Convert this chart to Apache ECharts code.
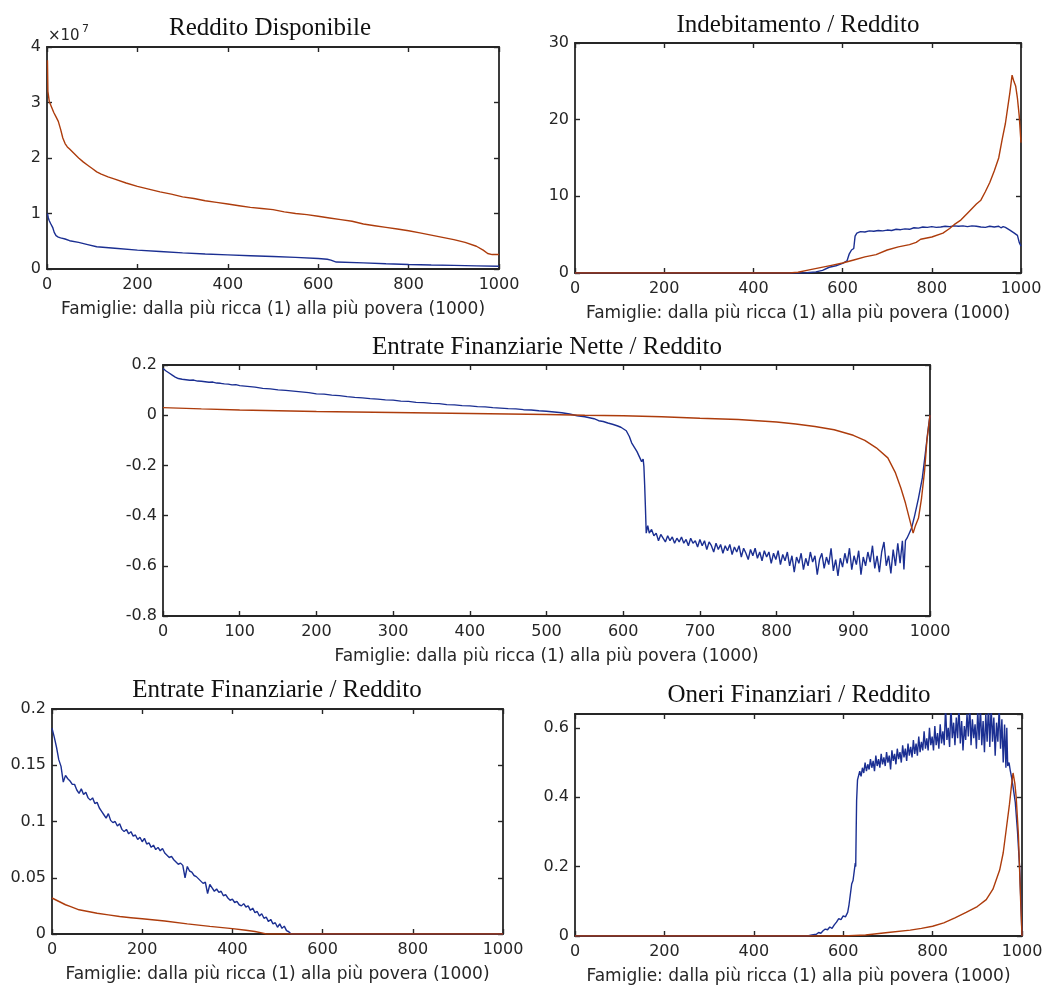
<!DOCTYPE html>
<html>
<head>
<meta charset="utf-8">
<script src="https://cdn.jsdelivr.net/npm/echarts@6/dist/echarts.min.js"></script>
<style>
  html, body { margin: 0; padding: 0; background: #ffffff; }
  #chart { width: 1046px; height: 986px; }
</style>
</head>
<body>
<div id="chart"></div>
<script>
// ---------------- DATA (x = famiglia 1..1000, y = valore) ----------------
const xAxisName = 'Famiglie: dalla più ricca (1) alla più povera (1000)';
const titles = ['Reddito Disponibile', 'Indebitamento / Reddito', 'Entrate Finanziarie Nette / Reddito',
                'Entrate Finanziarie / Reddito', 'Oneri Finanziari / Reddito'];

// Panel 1: Reddito Disponibile (unità: 10^7)
const redditoBlu = [[1,1.00],[3,0.92],[5,0.87],[8,0.82],[10,0.79],[13,0.74],[16,0.66],[20,0.60],[25,0.575],[30,0.56],
  [40,0.54],[50,0.51],[70,0.48],[90,0.44],[110,0.40],[150,0.375],[200,0.34],[250,0.315],[300,0.29],[350,0.27],
  [400,0.255],[450,0.24],[500,0.225],[550,0.21],[600,0.19],[620,0.175],[628,0.16],[632,0.135],[640,0.125],
  [700,0.11],[750,0.095],[800,0.082],[850,0.072],[900,0.065],[950,0.057],[1000,0.05]];
const redditoArancio = [[1,3.76],[2,3.20],[5,3.02],[10,2.92],[15,2.82],[20,2.74],[25,2.66],[30,2.52],[35,2.36],[40,2.26],
  [45,2.20],[50,2.16],[60,2.08],[70,2.00],[80,1.93],[90,1.87],[100,1.81],[110,1.75],[120,1.71],[135,1.66],[150,1.62],
  [175,1.55],[200,1.49],[225,1.44],[250,1.39],[275,1.35],[300,1.30],[325,1.27],[350,1.23],[375,1.20],[400,1.17],
  [425,1.14],[450,1.11],[475,1.09],[500,1.07],[525,1.03],[550,1.00],[575,0.98],[600,0.95],[625,0.92],[650,0.89],
  [675,0.86],[700,0.81],[725,0.78],[750,0.75],[775,0.72],[800,0.69],[825,0.65],[850,0.61],[875,0.57],[900,0.53],
  [925,0.48],[950,0.41],[965,0.34],[975,0.28],[985,0.26],[1000,0.26]];

// Panel 2: Indebitamento / Reddito
const debitoBlu = [[0,0],[500,0],[520,0.03],[540,0.15],[555,0.35],[570,0.75],[585,0.95],[600,1.25],[610,1.6],[615,2.5],
  [620,3.0],[625,3.2],[628,4.8],[632,5.2],[640,5.4],[650,5.35],[660,5.5],[670,5.45],[680,5.55],[690,5.5],[700,5.6],
  [710,5.55],[720,5.7],[730,5.65],[740,5.75],[750,5.7],[760,5.9],[770,5.85],[780,6.0],[790,5.95],[800,6.05],
  [810,5.95],[820,6.0],[830,6.1],[840,6.05],[850,6.15],[860,6.1],[870,6.15],[880,6.05],[890,6.15],[900,6.1],
  [910,6.0],[920,5.95],[930,6.1],[940,6.0],[950,6.1],[955,5.9],[960,6.05],[965,5.95],[975,5.6],[985,5.2],
  [992,4.9],[996,4.0],[1000,3.5]];
const debitoArancio = [[0,0],[480,0],[500,0.1],[525,0.4],[550,0.7],[575,1.0],[600,1.3],[625,1.7],[650,2.1],[675,2.4],
  [700,3.0],[725,3.4],[750,3.7],[765,4.0],[775,4.4],[800,4.7],[825,5.2],[840,5.8],[850,6.3],[865,6.9],[880,7.8],
  [900,9.0],[910,9.5],[920,10.6],[930,11.8],[940,13.3],[950,15.0],[958,17.5],[965,19.5],[970,21.5],[975,23.5],
  [980,25.8],[984,25.0],[988,24.4],[992,22.8],[996,20.5],[1000,17.0]];

// Panel 3: Entrate Finanziarie Nette / Reddito
const netteBlu = [[0,0.186],[4,0.176],[8,0.168],[12,0.160],[16,0.152],[20,0.146],[25,0.143],[30,0.141],[35,0.139],
  [40,0.140],[45,0.136],[50,0.135],[55,0.133],[60,0.131],[65,0.132],[70,0.128],[75,0.127],[80,0.125],[85,0.124],
  [90,0.121],[95,0.122],[100,0.118],[110,0.115],[120,0.112],[130,0.107],[140,0.105],[150,0.101],[160,0.099],
  [170,0.096],[180,0.093],[190,0.090],[200,0.085],[210,0.084],[220,0.080],[230,0.078],[240,0.074],[250,0.071],
  [260,0.069],[270,0.066],[280,0.064],[290,0.061],[300,0.060],[310,0.056],[320,0.055],[330,0.051],[340,0.050],
  [350,0.047],[360,0.046],[370,0.042],[380,0.041],[390,0.038],[400,0.037],[410,0.034],[420,0.033],[430,0.030],
  [440,0.028],[450,0.026],[460,0.025],[470,0.022],[480,0.021],[490,0.018],[500,0.016],[510,0.013],[520,0.010],
  [530,0.005],[540,-0.002],[550,-0.006],[556,-0.010],[562,-0.014],[568,-0.022],[574,-0.025],[580,-0.031],
  [586,-0.036],[592,-0.042],[597,-0.048],[601,-0.056],[604,-0.062],[608,-0.085],[611,-0.110],[615,-0.130],
  [618,-0.145],[621,-0.165],[624,-0.185],[626,-0.175],[627,-0.205],[628,-0.280],[629,-0.370],[630,-0.470],
  [632,-0.440],[634,-0.470],[637,-0.455],[640,-0.480],[643,-0.470],[646,-0.500],[649,-0.475],[652,-0.490],
  [655,-0.505],[658,-0.480],[661,-0.500],[664,-0.485],[667,-0.510],[670,-0.490],[673,-0.505],[676,-0.485],
  [679,-0.510],[682,-0.495],[685,-0.520],[688,-0.490],[691,-0.510],[694,-0.500],[697,-0.525],[700,-0.495],
  [703,-0.520],[706,-0.500],[709,-0.535],[712,-0.505],[715,-0.520],[718,-0.545],[721,-0.510],[724,-0.535],
  [727,-0.515],[730,-0.550],[733,-0.520],[736,-0.540],[739,-0.515],[742,-0.555],[745,-0.525],[748,-0.545],
  [751,-0.520],[754,-0.565],[757,-0.530],[760,-0.550],[763,-0.575],[766,-0.535],[769,-0.560],[772,-0.530],
  [775,-0.570],[778,-0.545],[781,-0.580],[784,-0.540],[787,-0.565],[790,-0.545],[793,-0.590],[796,-0.550],
  [799,-0.575],[802,-0.540],[805,-0.595],[808,-0.555],[811,-0.580],[814,-0.545],[817,-0.600],[820,-0.560],
  [823,-0.625],[826,-0.565],[829,-0.590],[832,-0.550],[835,-0.615],[838,-0.570],[841,-0.600],[844,-0.545],
  [847,-0.585],[850,-0.560],[853,-0.635],[856,-0.575],[859,-0.550],[862,-0.610],[865,-0.565],[868,-0.595],
  [871,-0.530],[874,-0.620],[877,-0.575],[880,-0.640],[883,-0.570],[886,-0.605],[889,-0.550],[892,-0.590],
  [895,-0.530],[898,-0.615],[901,-0.560],[904,-0.595],[907,-0.540],[910,-0.635],[913,-0.565],[916,-0.600],
  [919,-0.545],[922,-0.585],[925,-0.520],[928,-0.610],[931,-0.560],[934,-0.625],[937,-0.545],[940,-0.505],
  [943,-0.600],[946,-0.560],[949,-0.630],[952,-0.535],[955,-0.600],[958,-0.510],[961,-0.590],[964,-0.500],
  [966,-0.615],[968,-0.500],[970,-0.490],[973,-0.470],[976,-0.450],[980,-0.400],[985,-0.330],[990,-0.250],
  [994,-0.150],[997,-0.070],[1000,0.0]];
const netteArancio = [[0,0.030],[50,0.025],[100,0.021],[150,0.018],[200,0.015],[250,0.013],[300,0.011],[350,0.009],
  [400,0.007],[450,0.005],[500,0.003],[550,0.0],[600,-0.002],[650,-0.006],[700,-0.012],[750,-0.017],[800,-0.027],
  [825,-0.035],[850,-0.045],[875,-0.058],[900,-0.080],[915,-0.100],[930,-0.130],[945,-0.170],[955,-0.230],
  [962,-0.290],[968,-0.350],[973,-0.410],[978,-0.470],[981,-0.440],[985,-0.410],[989,-0.330],[993,-0.220],
  [996,-0.100],[1000,0.0]];

// Panel 4: Entrate Finanziarie / Reddito
const entrateBlu = [[0,0.183],[5,0.175],[10,0.166],[15,0.155],[20,0.149],[25,0.135],[30,0.141],[35,0.138],[40,0.136],
  [45,0.133],[50,0.133],[55,0.128],[60,0.125],[65,0.129],[70,0.124],[75,0.126],[80,0.121],[85,0.119],[90,0.121],
  [95,0.116],[100,0.117],[105,0.112],[110,0.109],[115,0.106],[120,0.103],[125,0.107],[130,0.101],[135,0.099],
  [140,0.100],[145,0.096],[150,0.098],[155,0.093],[160,0.091],[165,0.093],[170,0.089],[175,0.091],[180,0.087],
  [185,0.088],[190,0.084],[195,0.086],[200,0.082],[205,0.085],[210,0.080],[215,0.081],[220,0.077],[225,0.079],
  [230,0.075],[235,0.077],[240,0.074],[245,0.076],[250,0.072],[255,0.070],[260,0.068],[265,0.069],[270,0.066],
  [275,0.064],[280,0.062],[285,0.063],[290,0.061],[295,0.050],[300,0.060],[305,0.056],[310,0.055],[315,0.052],
  [320,0.051],[325,0.049],[330,0.047],[335,0.045],[340,0.046],[345,0.036],[350,0.044],[355,0.041],[360,0.038],
  [365,0.040],[370,0.037],[375,0.038],[380,0.034],[385,0.035],[390,0.032],[395,0.030],[400,0.031],[405,0.028],
  [410,0.029],[415,0.026],[420,0.025],[425,0.027],[430,0.024],[435,0.025],[440,0.021],[445,0.023],[450,0.019],
  [455,0.020],[460,0.016],[465,0.018],[470,0.014],[475,0.015],[480,0.011],[485,0.013],[490,0.009],[495,0.010],
  [500,0.006],[505,0.009],[510,0.005],[515,0.007],[520,0.003],[525,0.002],[530,0.0],[1000,0.0]];
const entrateArancio = [[0,0.032],[10,0.030],[20,0.028],[30,0.026],[40,0.0245],[50,0.023],[60,0.0215],[80,0.020],
  [100,0.0185],[125,0.017],[150,0.0155],[175,0.0145],[200,0.0135],[250,0.0115],[300,0.009],[350,0.0068],
  [400,0.0048],[430,0.0033],[450,0.0022],[465,0.001],[475,0.0],[1000,0.0]];

// Panel 5: Oneri Finanziari / Reddito
const oneriBlu = [[0,0],[520,0],[530,0.003],[540,0.005],[545,0.010],[550,0.008],[555,0.015],[560,0.020],[565,0.018],
  [570,0.026],[575,0.022],[580,0.032],[585,0.040],[590,0.050],[595,0.047],[600,0.058],[605,0.055],[610,0.068],
  [613,0.090],[616,0.120],[619,0.150],[622,0.160],[625,0.190],[627,0.210],[628,0.200],[629,0.300],[630,0.390],
  [632,0.450],[635,0.455],[637,0.475],[640,0.460],[643,0.485],[646,0.470],[649,0.500],[652,0.475],[655,0.495],
  [658,0.480],[661,0.510],[664,0.485],[667,0.505],[670,0.475],[673,0.520],[676,0.490],[679,0.510],[682,0.485],
  [685,0.525],[688,0.495],[691,0.515],[694,0.490],[697,0.530],[700,0.500],[703,0.520],[706,0.480],[709,0.535],
  [712,0.505],[715,0.525],[718,0.495],[721,0.540],[724,0.510],[727,0.530],[730,0.500],[733,0.550],[736,0.515],
  [739,0.540],[742,0.505],[745,0.555],[748,0.520],[751,0.545],[754,0.515],[757,0.565],[760,0.525],[763,0.555],
  [766,0.520],[769,0.575],[772,0.530],[775,0.560],[778,0.535],[781,0.590],[784,0.540],[787,0.570],[790,0.535],
  [793,0.600],[796,0.550],[799,0.575],[802,0.535],[805,0.605],[808,0.550],[811,0.585],[814,0.540],[817,0.610],
  [820,0.555],[823,0.590],[826,0.550],[829,0.660],[832,0.565],[835,0.600],[838,0.545],[841,0.665],[844,0.570],
  [847,0.615],[850,0.550],[853,0.630],[856,0.570],[859,0.665],[862,0.555],[865,0.620],[868,0.535],[871,0.605],
  [874,0.565],[877,0.640],[880,0.575],[883,0.670],[886,0.550],[889,0.625],[892,0.570],[895,0.610],[898,0.540],
  [901,0.650],[904,0.565],[907,0.660],[910,0.550],[913,0.620],[916,0.530],[919,0.640],[922,0.560],[925,0.670],
  [928,0.545],[931,0.665],[934,0.560],[937,0.630],[940,0.520],[943,0.615],[946,0.560],[949,0.660],[952,0.540],
  [955,0.625],[958,0.500],[961,0.610],[964,0.485],[966,0.600],[968,0.490],[971,0.500],[974,0.475],[977,0.455],
  [980,0.430],[985,0.385],[990,0.300],[995,0.190],[998,0.080],[1000,0.0]];
const oneriArancio = [[0,0],[600,0],[650,0.003],[700,0.010],[750,0.017],[775,0.022],[800,0.028],[825,0.038],
  [850,0.052],[875,0.068],[900,0.085],[920,0.105],[935,0.135],[950,0.190],[958,0.240],[965,0.310],[972,0.380],
  [977,0.440],[980,0.470],[984,0.440],[987,0.400],[992,0.290],[997,0.100],[1000,0.0]];

// Y-axis ranges (per panel)
const yRanges = [
  { min: 0, max: 4, interval: 1 },
  { min: 0, max: 30, interval: 10 },
  { min: -0.8, max: 0.2, interval: 0.2 },
  { min: 0, max: 0.2, interval: 0.05 },
  { min: 0, max: 0.64, interval: 0.2 }
];
const xIntervals = [200, 200, 100, 200, 200];

// ---------------- LAYOUT / STYLE ----------------
const BLUE = '#1b2f92';
const ORANGE = '#ad3c0c';
const AX = '#262626';
const SANS = '"DejaVu Sans", Verdana, sans-serif';
const SERIF = '"Liberation Serif", "Times New Roman", serif';

const grids = [
  { left: 47,  top: 47,  width: 452, height: 222 },
  { left: 575, top: 43,  width: 446, height: 230 },
  { left: 163, top: 365, width: 767, height: 251 },
  { left: 52,  top: 709, width: 451, height: 225 },
  { left: 575, top: 714, width: 447, height: 223 }
];
const titlePos = [[270, 28], [798, 25], [547, 347], [277, 690], [799, 695]];
const seriesData = [
  [redditoBlu, redditoArancio],
  [debitoBlu, debitoArancio],
  [netteBlu, netteArancio],
  [entrateBlu, entrateArancio],
  [oneriBlu, oneriArancio]
];

const xAxes = [], yAxes = [], series = [], graphics = [];
grids.forEach((g, i) => {
  const lineCommon = { show: true, onZero: false, lineStyle: { color: AX, width: 1.8 } };
  const tickCommon = { show: true, inside: true, length: 5, lineStyle: { color: AX, width: 1.4 } };
  const labelStyle = { color: AX, fontSize: 16, fontFamily: SANS };
  xAxes.push({
    type: 'value', gridIndex: i, position: 'bottom', min: 0, max: 1000, interval: xIntervals[i],
    axisLine: lineCommon, axisTick: tickCommon,
    axisLabel: Object.assign({ show: true, margin: 8, formatter: v => String(v) }, labelStyle),
    splitLine: { show: false },
    name: xAxisName, nameLocation: 'middle', nameGap: 32,
    nameTextStyle: { color: AX, fontSize: 17, fontFamily: SANS }
  });
  xAxes.push({
    type: 'value', gridIndex: i, position: 'top', min: 0, max: 1000, interval: xIntervals[i],
    axisLine: lineCommon, axisTick: tickCommon, axisLabel: { show: false }, splitLine: { show: false }
  });
  const yr = yRanges[i];
  yAxes.push({
    type: 'value', gridIndex: i, position: 'left', min: yr.min, max: yr.max, interval: yr.interval,
    axisLine: lineCommon, axisTick: tickCommon,
    axisLabel: Object.assign({ show: true, margin: 6, showMaxLabel: i !== 4, formatter: v => String(v) }, labelStyle),
    splitLine: { show: false }
  });
  yAxes.push({
    type: 'value', gridIndex: i, position: 'right', min: yr.min, max: yr.max, interval: yr.interval,
    axisLine: lineCommon, axisTick: tickCommon, axisLabel: { show: false }, splitLine: { show: false }
  });
  const colors = [BLUE, ORANGE];
  seriesData[i].forEach((d, k) => {
    series.push({
      type: 'line', xAxisIndex: 2 * i, yAxisIndex: 2 * i, data: d,
      showSymbol: false, symbol: 'none', clip: true, silent: true,
      lineStyle: { color: colors[k], width: 1.4 }, z: 3 + k
    });
  });
  graphics.push({
    type: 'text', x: titlePos[i][0], y: titlePos[i][1],
    style: { text: titles[i], font: '25px ' + SERIF, fill: '#111', align: 'center', verticalAlign: 'middle' }
  });
});
// exponent label of panel 1
graphics.push({ type: 'text', x: 48, y: 36, style: { text: '×10', font: '15px ' + SANS, fill: AX, align: 'left', verticalAlign: 'middle' } });
graphics.push({ type: 'text', x: 82, y: 29, style: { text: '7', font: '11px ' + SANS, fill: AX, align: 'left', verticalAlign: 'middle' } });

const chart = echarts.init(document.getElementById('chart'), null, { renderer: 'canvas' });
chart.setOption({
  animation: false,
  backgroundColor: '#ffffff',
  grid: grids,
  xAxis: xAxes,
  yAxis: yAxes,
  series: series,
  graphic: graphics
});
</script>
</body>
</html>
